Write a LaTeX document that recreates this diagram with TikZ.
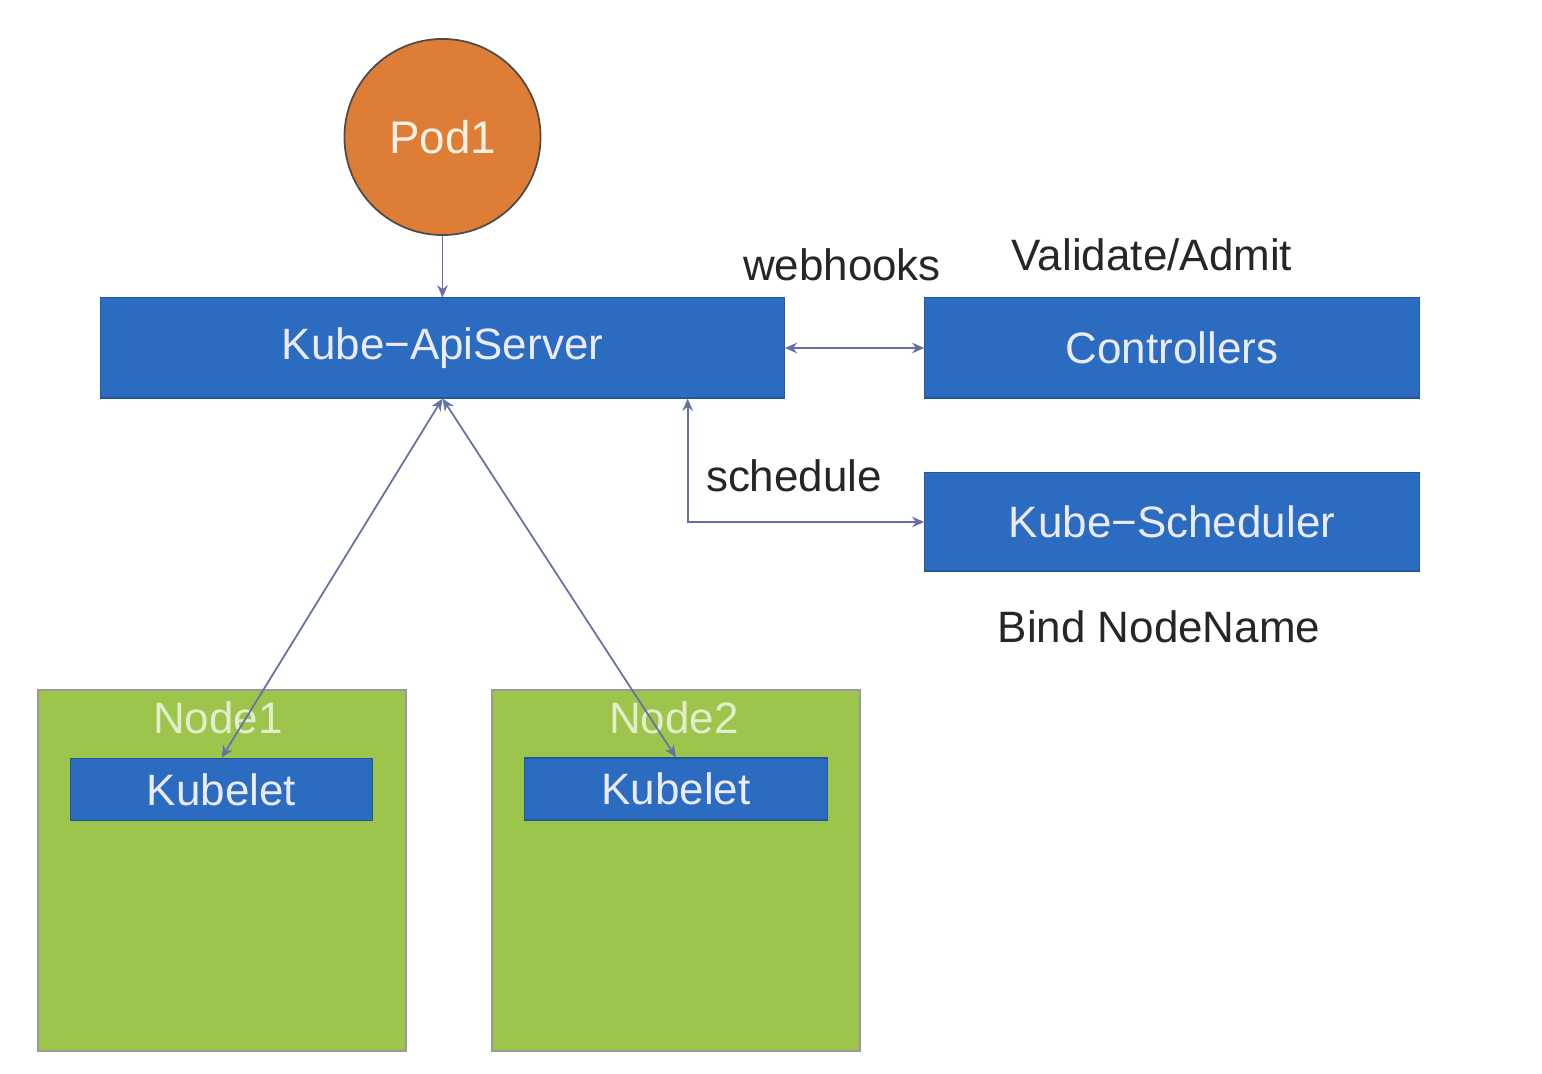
\documentclass[tikz,border=0pt]{standalone}
\usepackage{fontspec}
\setmainfont{Liberation Sans}
\usetikzlibrary{arrows.meta}
\definecolor{k8sblue}{HTML}{2C6CC0}
\definecolor{podorange}{HTML}{DE7D36}
\definecolor{nodegreen}{HTML}{9DC54C}
\definecolor{linkblue}{HTML}{6670A6}
\begin{document}
\begin{tikzpicture}[
    x=0.01cm, y=-0.01cm,
    comp/.style={rectangle, fill=k8sblue, draw=k8sblue!80!black, line width=0.3pt,
                 text=white!92!blue, inner sep=0pt, font=\fontsize{12.5}{15}\selectfont},
    host/.style={rectangle, fill=nodegreen, draw=gray!80, line width=0.6pt, inner sep=0pt,
                 minimum width=3.68cm, minimum height=3.61cm},
    kubelet/.style={comp, minimum width=3.02cm, minimum height=0.62cm},
    lbl/.style={font=\fontsize{12.5}{15}\selectfont, text=black!85},
    >={Stealth[length=3.5pt,width=3pt]},
    link/.style={<->, line width=0.5pt, color=linkblue}
  ]
  \useasboundingbox (0,0) rectangle (1542,1074);
  % Pod
  \node[circle, fill=podorange, draw=black!70, line width=0.5pt, minimum size=1.96cm,
        text=white!90!orange, font=\fontsize{13}{15}\selectfont] (pod) at (442.5,137) {Pod1};
  % Control plane
  \node[comp, minimum width=6.83cm, minimum height=1cm] (api) at (442.5,348) {Kube−ApiServer};
  \node[comp, minimum width=4.94cm, minimum height=1cm] (ctrl) at (1172,348) {Controllers};
  \node[comp, minimum width=4.94cm, minimum height=0.98cm] (sched) at (1172,522) {Kube−Scheduler};
  % Labels
  \node[lbl] (webhooks) at (842,265) {webhooks};
  \node[lbl] (validate) at (1152,255) {Validate/Admit};
  \node[lbl] (schedule) at (794,476) {schedule};
  \node[lbl] (bind) at (1159,627) {Bind NodeName};
  % Worker nodes
  \node[host] (node1) at (222,870.5) {};
  \node[host] (node2) at (676,870.5) {};
  \node[text=nodegreen!30!white, font=\fontsize{12.5}{15}\selectfont] (node1lbl) at (218,718) {Node1};
  \node[text=nodegreen!30!white, font=\fontsize{12.5}{15}\selectfont] (node2lbl) at (674,718) {Node2};
  \node[kubelet] (kub1) at (221.5,789.5) {Kubelet};
  \node[kubelet] (kub2) at (676,789) {Kubelet};
  % Links
  \draw[->, line width=0.5pt, color=linkblue] (pod.south) -- (api.north);
  \draw[link] (api.east) -- (ctrl.west);
  \draw[link] (api.south) -- (kub1.north);
  \draw[link] (api.south) -- (kub2.north);
  \draw[link] ([xshift=-0.97cm]api.south east) |- (sched.west);
\end{tikzpicture}
\end{document}
